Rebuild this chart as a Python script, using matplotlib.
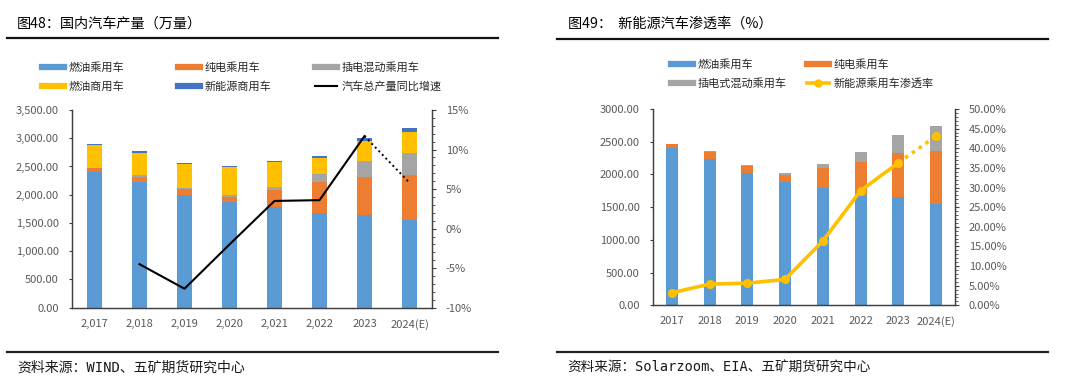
import numpy as np
import matplotlib
matplotlib.use("Agg")
import matplotlib.pyplot as plt
from matplotlib.lines import Line2D
from matplotlib.ticker import MultipleLocator, FuncFormatter

plt.rcParams['font.family'] = ['Noto Sans CJK SC', 'DejaVu Sans']

# ==========================
# Data
# ==========================
years_left = ['2,017', '2,018', '2,019', '2,020', '2,021', '2,022', '2023', '2024(E)']
oil_pc_l = [2410, 2232, 1996, 1866, 1778, 1671, 1642, 1547]
bev_pc_l = [65, 89, 100, 95, 307, 555, 667, 797]
phev_pc_l = [5, 30, 30, 35, 53, 142, 295, 390]
oil_cv_l = [400, 395, 420, 500, 449, 290, 354, 384]
nev_cv_l = [26, 30, 18, 18, 18, 30, 41, 65]
growth = [np.nan, -4.5, -7.6, -2.0, 3.5, 3.6, 11.7, 5.8]

years_right = ['2017', '2018', '2019', '2020', '2021', '2022', '2023', '2024(E)']
oil_pc_r = [2398, 2236, 2028, 1881, 1790, 1663, 1648, 1551]
bev_pc_r = [66, 101, 107, 106, 304, 532, 679, 801]
phev_pc_r = [4, 25, 3, 30, 61, 152, 269, 381]
penetration = [3.2, 5.4, 5.65, 6.6, 16.4, 29.2, 36.3, 43.1]

c_blue = '#5B9BD5'
c_orange = '#ED7D31'
c_gray = '#A5A5A5'
c_yellow = '#FFC000'
c_dblue = '#4472C4'
c_tick = '#595959'

W, H = 1080, 383
fig = plt.figure(figsize=(W / 100, H / 100), dpi=100)


def fx(px):
    return px / W


def fy(py):
    return 1 - py / H


def style_axes(ax, ax2):
    for s in ['top']:
        ax.spines[s].set_visible(False)
        ax2.spines[s].set_visible(False)
    for a in (ax, ax2):
        for s in ['left', 'right', 'bottom']:
            a.spines[s].set_color('#404040')
            a.spines[s].set_linewidth(0.9)
    ax.tick_params(axis='y', direction='out', length=2.5, width=0.8, color='#404040',
                   labelsize=8, labelcolor=c_tick, pad=7)
    ax.tick_params(axis='x', length=0, labelsize=8, labelcolor=c_tick, pad=8)
    ax2.tick_params(axis='y', which='major', direction='out', length=3, width=0.8,
                    color='#404040', labelsize=8, labelcolor=c_tick, pad=7)
    ax2.tick_params(axis='y', which='minor', direction='out', length=1.8, width=0.6,
                    color='#404040')
    ax2.yaxis.set_minor_locator(MultipleLocator(1))


# ==========================
# Left chart
# ==========================
x = np.arange(len(years_left))
bw = 0.32
ax = fig.add_axes([fx(72), fy(307.7), fx(360), 197.7 / H])
bottom = np.zeros(len(x))
for vals, col in [(oil_pc_l, c_blue), (bev_pc_l, c_orange), (phev_pc_l, c_gray),
                  (oil_cv_l, c_yellow), (nev_cv_l, c_dblue)]:
    ax.bar(x, vals, bw, bottom=bottom, color=col, zorder=2)
    bottom += np.array(vals)
ax.set_xlim(-0.5, len(x) - 0.5)
ax.set_ylim(0, 3500)
ax.yaxis.set_major_locator(MultipleLocator(500))
ax.yaxis.set_major_formatter(FuncFormatter(lambda v, p: f'{v:,.2f}'))
ax.set_xticks(x)
ax.set_xticklabels(years_left)

ax2 = ax.twinx()
ax2.plot(x[:7], growth[:7], color='black', lw=1.5, zorder=3)
ax2.plot(x[6:], growth[6:], color='black', lw=1.4, ls=(0, (1, 1.6)), zorder=3)
ax2.set_ylim(-10, 15)
ax2.yaxis.set_major_locator(MultipleLocator(5))
ax2.yaxis.set_major_formatter(FuncFormatter(lambda v, p: f'{v:.0f}%'))
style_axes(ax, ax2)

# legend, three columns placed like the original
leg_kw = dict(loc='upper left', frameon=False, fontsize=8, handlelength=2.0,
              handletextpad=0.35, labelspacing=0.75, borderpad=0, borderaxespad=0,
              labelcolor='#262626')
cols_l = [
    ([Line2D([], [], color=c_blue, lw=4.5), Line2D([], [], color=c_yellow, lw=4.5)],
     ['燃油乘用车', '燃油商用车'], 42),
    ([Line2D([], [], color=c_orange, lw=4.5), Line2D([], [], color=c_dblue, lw=4.5)],
     ['纯电乘用车', '新能源商用车'], 178),
    ([Line2D([], [], color=c_gray, lw=4.5), Line2D([], [], color='black', lw=1.5)],
     ['插电混动乘用车', '汽车总产量同比增速'], 315),
]
for h, l, px in cols_l:
    fig.legend(h, l, bbox_to_anchor=(fx(px), fy(62)), **leg_kw)

# ==========================
# Right chart
# ==========================
xr = np.arange(len(years_right))
axr = fig.add_axes([fx(653), fy(305.3), fx(302), 196.3 / H])
bottom = np.zeros(len(xr))
for vals, col in [(oil_pc_r, c_blue), (bev_pc_r, c_orange), (phev_pc_r, c_gray)]:
    axr.bar(xr, vals, bw, bottom=bottom, color=col, zorder=2)
    bottom += np.array(vals)
axr.set_xlim(-0.5, len(xr) - 0.5)
axr.set_ylim(0, 3000)
axr.yaxis.set_major_locator(MultipleLocator(500))
axr.yaxis.set_major_formatter(FuncFormatter(lambda v, p: f'{v:.2f}'))
axr.set_xticks(xr)
axr.set_xticklabels(years_right)

axr2 = axr.twinx()
axr2.plot(xr[:7], penetration[:7], color=c_yellow, lw=2.6, marker='o', ms=5.5, zorder=3)
axr2.plot(xr[6:], penetration[6:], color=c_yellow, lw=2.6, ls=(0, (1, 1.3)),
          marker='o', ms=5.5, markevery=[1], zorder=3)
axr2.set_ylim(0, 50)
axr2.yaxis.set_major_locator(MultipleLocator(5))
axr2.yaxis.set_major_formatter(FuncFormatter(lambda v, p: f'{v:.2f}%'))
style_axes(axr, axr2)

cols_r = [
    ([Line2D([], [], color=c_blue, lw=4.5), Line2D([], [], color=c_gray, lw=4.5)],
     ['燃油乘用车', '插电式混动乘用车'], 671),
    ([Line2D([], [], color=c_orange, lw=4.5),
      Line2D([], [], color=c_yellow, lw=2.6, marker='o', ms=5)],
     ['纯电乘用车', '新能源乘用车渗透率'], 807),
]
for h, l, px in cols_r:
    fig.legend(h, l, bbox_to_anchor=(fx(px), fy(59)), **leg_kw)

# ==========================
# Titles, rules and sources
# ==========================
fig.text(fx(17), fy(24), '图48：国内汽车产量（万量）', fontsize=10.2,
         va='center', ha='left', color='black')
fig.text(fx(568), fy(24), '图49：  新能源汽车渗透率（%）', fontsize=10.2,
         va='center', ha='left', color='black')
fig.add_artist(Line2D([fx(7), fx(498)], [fy(37.7), fy(37.7)], color='#111111', lw=1.6))
fig.add_artist(Line2D([fx(557), fx(1048)], [fy(39), fy(39)], color='#111111', lw=1.6))
fig.add_artist(Line2D([fx(7), fx(498)], [fy(352), fy(352)], color='#222222', lw=1.6))
fig.add_artist(Line2D([fx(557), fx(1048)], [fy(352), fy(352)], color='#222222', lw=1.6))

src_font = ['DejaVu Sans Mono', 'Noto Sans CJK SC']
fig.text(fx(17), fy(368), '资料来源：WIND、五矿期货研究中心', fontsize=10,
         family=src_font, va='center', ha='left', color='#1a1a1a')
fig.text(fx(567), fy(368), '资料来源：Solarzoom、EIA、五矿期货研究中心', fontsize=9.8,
         family=src_font, va='center', ha='left', color='#1a1a1a')

fig.savefig('out.png', dpi=100)
